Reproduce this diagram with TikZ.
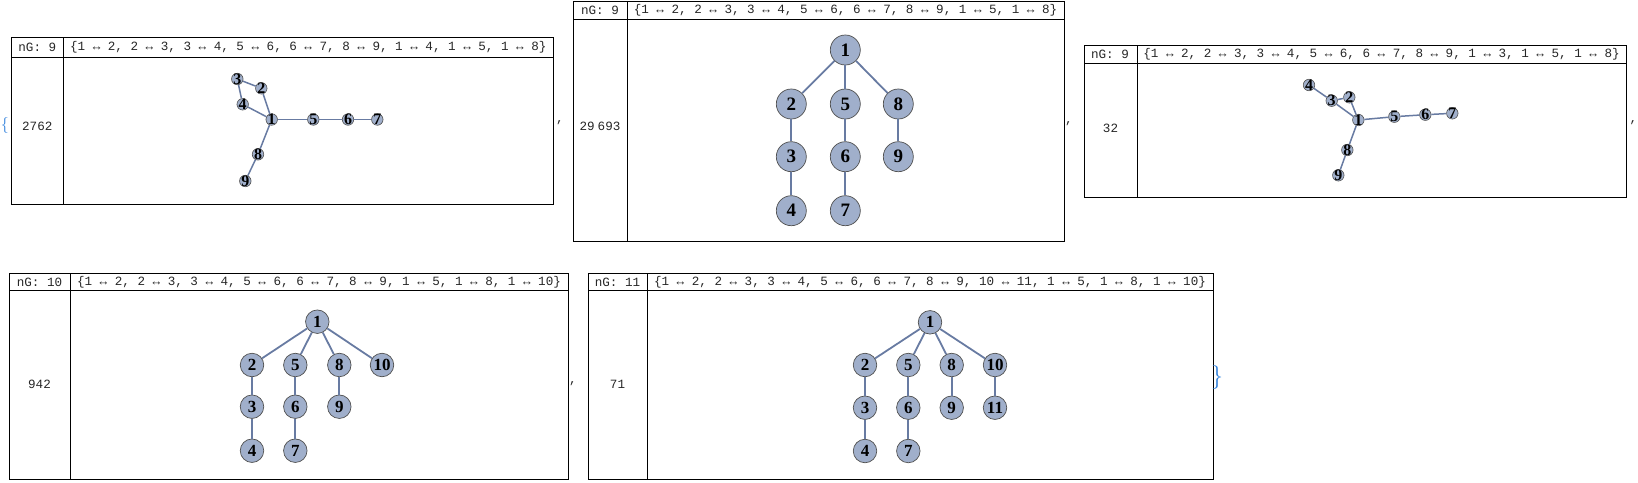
\documentclass[tikz,border=0pt]{standalone}
\usepackage{fontspec}
\newfontfamily\monof{Liberation Mono}
\newfontfamily\serifb{Liberation Serif}
\definecolor{nodefill}{RGB}{160,175,203}
\definecolor{nodeborder}{RGB}{80,80,80}
\definecolor{edgecol}{RGB}{104,123,162}
\definecolor{bracecol}{RGB}{50,130,220}
\tikzset{
  grid/.style={draw=black, line width=0.9pt},
  hdr/.style={font=\monof\fontsize{12.6}{15}\selectfont, inner sep=0pt, text=black!85},
  vA/.style={circle, draw=nodeborder, line width=0.7pt, fill=nodefill, inner sep=0pt, minimum size=30pt, font=\serifb\bfseries\fontsize{19}{20}\selectfont},
  vB/.style={circle, draw=nodeborder, line width=0.7pt, fill=nodefill, inner sep=0pt, minimum size=23.5pt, font=\serifb\bfseries\fontsize{17}{18}\selectfont},
  vC/.style={circle, draw=nodeborder, line width=0.6pt, fill=nodefill, inner sep=-1pt, minimum size=11.5pt, font=\serifb\bfseries\fontsize{16}{16}\selectfont},
  eA/.style={draw=edgecol, line width=1.8pt},
  eC/.style={draw=edgecol, line width=1.5pt},
  brc/.style={inner sep=0pt, text=bracecol}
}
\begin{document}
\begin{tikzpicture}[x=1pt,y=-1pt]
\useasboundingbox (0,0) rectangle (1638,482);
% ---------- Panel 1 ----------
\draw[grid] (11,37.7) rectangle (553,204);
\draw[grid] (11,57.7) -- (553,57.7);
\draw[grid] (63.5,37.7) -- (63.5,204);
\node[hdr] (p1hl) at (37.3,47.7) {nG: 9};
\node[hdr] (p1hr) at (308.3,47.7) {\{1 ↔ 2, 2 ↔ 3, 3 ↔ 4, 5 ↔ 6, 6 ↔ 7, 8 ↔ 9, 1 ↔ 4, 1 ↔ 5, 1 ↔ 8\}};
\node[hdr] (p1num) at (37.3,126.5) {2762};
\node[brc, font=\fontsize{16}{16}\selectfont] (obrace) at (5,125) {\{};
\node[hdr] (c1) at (560,123) {,};
\node[vC] (p1n1) at (271.7,119.5) {1};
\node[vC] (p1n2) at (261.3,88.3) {2};
\node[vC] (p1n3) at (237.3,79) {3};
\node[vC] (p1n4) at (242.7,104.3) {4};
\node[vC] (p1n5) at (313.3,119.5) {5};
\node[vC] (p1n6) at (348,119.5) {6};
\node[vC] (p1n7) at (377.3,119.5) {7};
\node[vC] (p1n8) at (258,154.3) {8};
\node[vC] (p1n9) at (245.3,181) {9};
\foreach \a/\b in {1/2,2/3,3/4,5/6,6/7,8/9,1/4,1/5,1/8}
  \draw[eC] (p1n\a) -- (p1n\b);
% ---------- Panel 2 ----------
\draw[grid] (573,1) rectangle (1064,241);
\draw[grid] (573,19.5) -- (1064,19.5);
\draw[grid] (627,1) -- (627,241);
\node[hdr] (p2hl) at (600,10.3) {nG: 9};
\node[hdr] (p2hr) at (845.5,10.3) {\{1 ↔ 2, 2 ↔ 3, 3 ↔ 4, 5 ↔ 6, 6 ↔ 7, 8 ↔ 9, 1 ↔ 5, 1 ↔ 8\}};
\node[hdr] (p2num) at (600,126) {29\kern3pt693};
\node[hdr] (c2) at (1069,124) {,};
\node[vA] (p2n1) at (845.3,50) {1};
\node[vA] (p2n2) at (791.3,104) {2};
\node[vA] (p2n5) at (845.3,104) {5};
\node[vA] (p2n8) at (898.3,104) {8};
\node[vA] (p2n3) at (791.3,156.7) {3};
\node[vA] (p2n6) at (845.3,156.7) {6};
\node[vA] (p2n9) at (898.3,156.7) {9};
\node[vA] (p2n4) at (791.3,210.7) {4};
\node[vA] (p2n7) at (845.3,210.7) {7};
\foreach \a/\b in {1/2,2/3,3/4,5/6,6/7,8/9,1/5,1/8}
  \draw[eA] (p2n\a) -- (p2n\b);
% ---------- Panel 3 ----------
\draw[grid] (1084.5,45) rectangle (1626,197);
\draw[grid] (1084.5,63.5) -- (1626,63.5);
\draw[grid] (1137,45) -- (1137,197);
\node[hdr] (p3hl) at (1110,54.3) {nG: 9};
\node[hdr] (p3hr) at (1381.5,54.3) {\{1 ↔ 2, 2 ↔ 3, 3 ↔ 4, 5 ↔ 6, 6 ↔ 7, 8 ↔ 9, 1 ↔ 3, 1 ↔ 5, 1 ↔ 8\}};
\node[hdr] (p3num) at (1110.5,128.5) {32};
\node[hdr] (c3) at (1633.5,123) {,};
\node[vC] (p3n1) at (1358.3,120) {1};
\node[vC] (p3n2) at (1349.3,97.3) {2};
\node[vC] (p3n3) at (1331.7,100.7) {3};
\node[vC] (p3n4) at (1309,85) {4};
\node[vC] (p3n5) at (1394.3,116.7) {5};
\node[vC] (p3n6) at (1425.3,114.7) {6};
\node[vC] (p3n7) at (1452.3,113.3) {7};
\node[vC] (p3n8) at (1347.3,150) {8};
\node[vC] (p3n9) at (1338.3,175.3) {9};
\foreach \a/\b in {1/2,2/3,3/4,5/6,6/7,8/9,1/3,1/5,1/8}
  \draw[eC] (p3n\a) -- (p3n\b);
% ---------- Panel 4 ----------
\draw[grid] (9,273.5) rectangle (568,479);
\draw[grid] (9,290.5) -- (568,290.5);
\draw[grid] (70,273.5) -- (70,479);
\node[hdr] (p4hl) at (39.5,282) {nG: 10};
\node[hdr] (p4hr) at (319,282) {\{1 ↔ 2, 2 ↔ 3, 3 ↔ 4, 5 ↔ 6, 6 ↔ 7, 8 ↔ 9, 1 ↔ 5, 1 ↔ 8, 1 ↔ 10\}};
\node[hdr] (p4num) at (39.5,384) {942};
\node[hdr] (c4) at (573,384) {,};
\node[vB] (p4n1) at (317.3,321.7) {1};
\node[vB] (p4n2) at (252,365) {2};
\node[vB] (p4n5) at (295.3,365) {5};
\node[vB] (p4n8) at (339.3,365) {8};
\node[vB] (p4n10) at (382,365) {10};
\node[vB] (p4n3) at (252,406.7) {3};
\node[vB] (p4n6) at (295.3,406.7) {6};
\node[vB] (p4n9) at (339.3,406.7) {9};
\node[vB] (p4n4) at (252,450.7) {4};
\node[vB] (p4n7) at (295.3,450.7) {7};
\foreach \a/\b in {1/2,2/3,3/4,5/6,6/7,8/9,1/5,1/8,1/10}
  \draw[eA] (p4n\a) -- (p4n\b);
% ---------- Panel 5 ----------
\draw[grid] (588,273.5) rectangle (1213,479);
\draw[grid] (588,290.5) -- (1213,290.5);
\draw[grid] (647,273.5) -- (647,479);
\node[hdr] (p5hl) at (617.5,282) {nG: 11};
\node[hdr] (p5hr) at (930,282) {\{1 ↔ 2, 2 ↔ 3, 3 ↔ 4, 5 ↔ 6, 6 ↔ 7, 8 ↔ 9, 10 ↔ 11, 1 ↔ 5, 1 ↔ 8, 1 ↔ 10\}};
\node[hdr] (p5num) at (617.5,384) {71};
\node[brc, font=\fontsize{24}{24}\selectfont] (cbrace) at (1217,377) {\}};
\node[vB] (p5n1) at (930,322.3) {1};
\node[vB] (p5n2) at (865,365) {2};
\node[vB] (p5n5) at (908.3,365) {5};
\node[vB] (p5n8) at (951.7,365) {8};
\node[vB] (p5n10) at (995,365) {10};
\node[vB] (p5n3) at (865,407.7) {3};
\node[vB] (p5n6) at (908.3,407.7) {6};
\node[vB] (p5n9) at (951.7,407.7) {9};
\node[vB] (p5n11) at (995,407.7) {11};
\node[vB] (p5n4) at (865,451) {4};
\node[vB] (p5n7) at (908.3,451) {7};
\foreach \a/\b in {1/2,2/3,3/4,5/6,6/7,8/9,10/11,1/5,1/8,1/10}
  \draw[eA] (p5n\a) -- (p5n\b);
\end{tikzpicture}
\end{document}
